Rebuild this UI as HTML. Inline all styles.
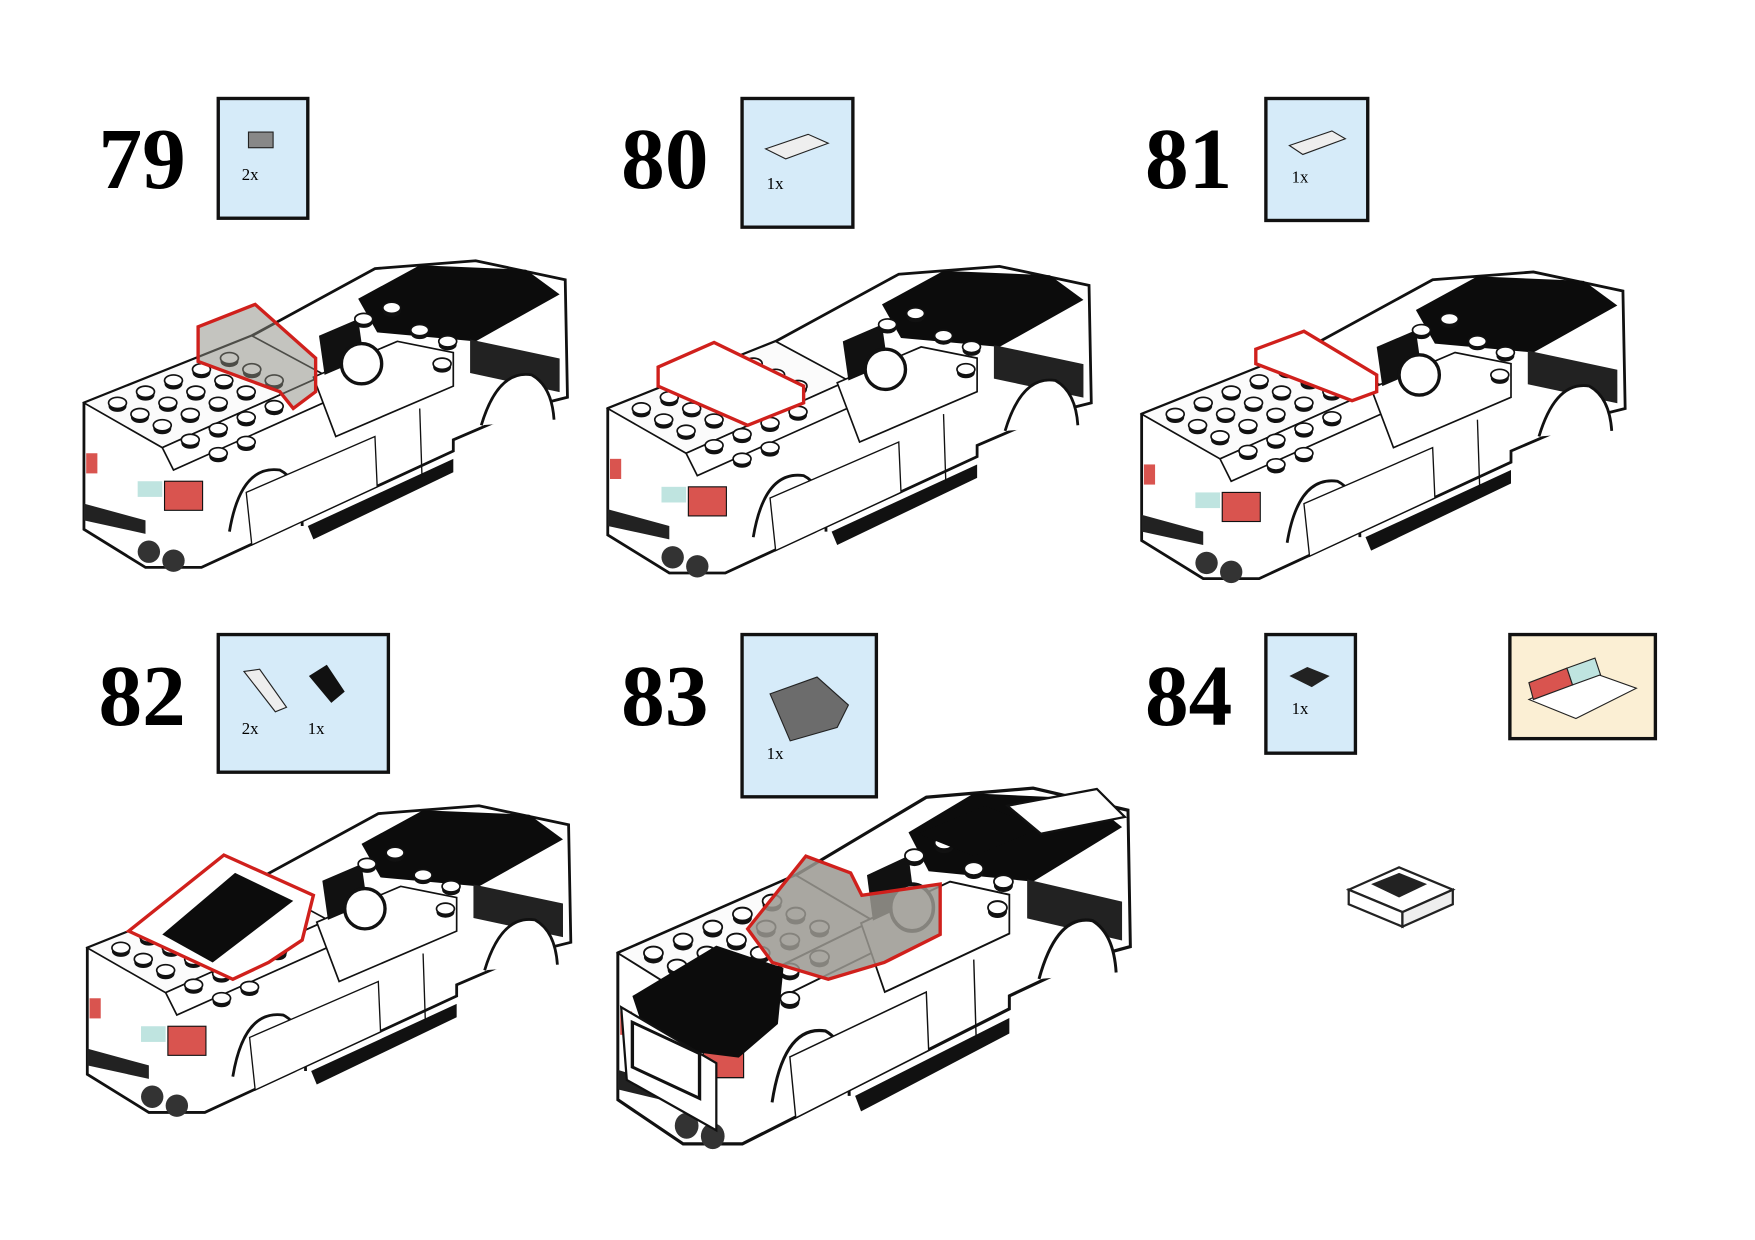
<!DOCTYPE html>
<html><head><meta charset="utf-8"><style>
html,body{margin:0;padding:0;background:#fff;width:1755px;height:1240px;overflow:hidden}
svg{display:block}
text{font-family:"Liberation Serif",serif}
.num{font-size:78px;font-weight:bold;fill:#000}
.qty{font-size:15px;fill:#000}
.box{fill:#d6ebf9;stroke:#111;stroke-width:3}
</style></head><body>
<svg width="1755" height="1240" viewBox="0 0 1568 1108" preserveAspectRatio="none">
<defs>
<g id="stud"><ellipse cx="0" cy="3" rx="8" ry="5" fill="#111"/><ellipse cx="0" cy="0" rx="8" ry="5" fill="#fff" stroke="#111" stroke-width="1.5"/></g>
<g id="car">
 <polygon points="0,135 150,75 260,15 350,8 430,25 432,130 400,138 330,168 330,178 105,282 55,282 0,248" fill="#fff" stroke="#111" stroke-width="2.5"/>
 <polygon points="245,42 300,12 395,16 425,38 350,80 262,72" fill="#0c0c0c"/>
 <rect x="345" y="5" width="80" height="30" fill="#222" transform="skewY(12)"/>
 <polygon points="0,135 150,75 215,110 70,175" fill="#fbfbfb" stroke="#111" stroke-width="1.5"/>
 <polygon points="70,175 215,110 225,130 80,195" fill="#fff" stroke="#111" stroke-width="1.5"/>
 <polygon points="205,112 280,80 330,90 330,120 225,165" fill="#fff" stroke="#111" stroke-width="1.5"/>
 <polygon points="210,75 245,60 250,95 215,110" fill="#111"/>
 <circle cx="248" cy="100" r="18" fill="#fff" stroke="#111" stroke-width="3"/>
 <polygon points="200,245 330,185 330,197 205,257" fill="#111"/>
 <path d="M130,250 Q140,190 175,195 Q195,205 195,245" fill="#fff" stroke="#111" stroke-width="2.5"/>
 <path d="M355,155 Q370,105 400,110 Q418,120 420,150" fill="#fff" stroke="#111" stroke-width="2.5"/>
 <polygon points="145,215 260,165 262,210 150,262" fill="#fff" stroke="#111" stroke-width="1.2"/>
 <line x1="300" y1="140" x2="302" y2="200" stroke="#111" stroke-width="1.2"/>
 <rect x="72" y="205" width="34" height="26" fill="#d9544f" stroke="#111"/>
 <rect x="2" y="180" width="10" height="18" fill="#d9544f"/>
 <rect x="48" y="205" width="22" height="14" fill="#bfe4e0"/>
 <polygon points="0,225 55,240 55,252 0,240" fill="#222"/>
 <circle cx="58" cy="268" r="10" fill="#333"/><circle cx="80" cy="276" r="10" fill="#333"/>
 <use href="#stud" x="30" y="135"/><use href="#stud" x="55" y="125"/><use href="#stud" x="80" y="115"/><use href="#stud" x="105" y="105"/><use href="#stud" x="130" y="95"/>
 <use href="#stud" x="50" y="145"/><use href="#stud" x="75" y="135"/><use href="#stud" x="100" y="125"/><use href="#stud" x="125" y="115"/><use href="#stud" x="150" y="105"/>
 <use href="#stud" x="70" y="155"/><use href="#stud" x="95" y="145"/><use href="#stud" x="120" y="135"/><use href="#stud" x="145" y="125"/><use href="#stud" x="170" y="115"/>
 <use href="#stud" x="95" y="168"/><use href="#stud" x="120" y="158"/><use href="#stud" x="145" y="148"/><use href="#stud" x="170" y="138"/>
 <use href="#stud" x="120" y="180"/><use href="#stud" x="145" y="170"/>
 <use href="#stud" x="250" y="60"/><use href="#stud" x="275" y="50"/><use href="#stud" x="300" y="70"/><use href="#stud" x="325" y="80"/><use href="#stud" x="320" y="100"/>
</g>
</defs>

<text class="num" x="88" y="168">79</text>
<text class="num" x="555" y="168">80</text>
<text class="num" x="1023" y="168">81</text>
<text class="num" x="88" y="648">82</text>
<text class="num" x="555" y="648">83</text>
<text class="num" x="1023" y="648">84</text>

<rect class="box" x="195" y="88" width="80" height="107"/>
<rect x="222" y="118" width="22" height="14" fill="#888" stroke="#222"/><text class="qty" x="216" y="161">2x</text>
<rect class="box" x="663" y="88" width="99" height="115"/>
<polygon points="684,133 722,120 740,128 702,142" fill="#eee" stroke="#222"/><text class="qty" x="685" y="169">1x</text>
<rect class="box" x="1131" y="88" width="91" height="109"/>
<polygon points="1152,130 1190,117 1202,124 1164,138" fill="#eee" stroke="#222"/><text class="qty" x="1154" y="163">1x</text>

<rect class="box" x="195" y="567" width="152" height="123"/>
<polygon points="218,600 232,598 256,632 246,636" fill="#eee" stroke="#222"/><polygon points="276,604 292,594 308,618 296,628" fill="#111"/>
<text class="qty" x="216" y="656">2x</text><text class="qty" x="275" y="656">1x</text>
<rect class="box" x="663" y="567" width="120" height="145"/>
<polygon points="688,620 730,605 758,630 748,650 706,662" fill="#6c6c6c" stroke="#222"/><text class="qty" x="685" y="678">1x</text>
<rect class="box" x="1131" y="567" width="80" height="106"/>
<polygon points="1152,604 1168,596 1188,604 1172,614" fill="#222"/><text class="qty" x="1154" y="638">1x</text>
<rect x="1349" y="567" width="130" height="93" fill="#fbefd4" stroke="#111" stroke-width="3"/>
<polygon points="1366,625 1420,600 1462,615 1408,642" fill="#fff" stroke="#222"/>
<polygon points="1366,610 1400,597 1405,612 1370,625" fill="#d9544f" stroke="#222"/>
<polygon points="1400,597 1425,588 1430,603 1405,612" fill="#bfe4e0" stroke="#222"/>

<use href="#car" x="75" y="225"/>
<polygon points="177,292 228,272 282,320 282,350 262,365 250,350 177,323" fill="#8a8a80" fill-opacity="0.5" stroke="#d0201c" stroke-width="3"/>

<use href="#car" x="543" y="230"/>
<polygon points="588,328 638,306 718,345 718,360 668,380 588,345" fill="#fff" stroke="#d0201c" stroke-width="3"/>

<use href="#car" x="1020" y="235"/>
<polygon points="1122,312 1165,296 1230,335 1230,350 1208,358 1122,325" fill="#fff" stroke="#d0201c" stroke-width="3"/>

<use href="#car" x="78" y="712"/>
<polygon points="115,832 200,764 280,800 270,840 240,860 208,875" fill="#fff" stroke="#d0201c" stroke-width="3"/>
<polygon points="145,835 210,780 262,805 190,860" fill="#0c0c0c"/>

<g transform="translate(552,695) scale(1.06,1.16)">
 <use href="#car" x="0" y="0"/>
</g>
<polygon points="565,890 640,845 700,865 695,915 660,945 580,935" fill="#0c0c0c"/>
<polygon points="555,900 640,950 640,1010 560,965" fill="#fff" stroke="#111" stroke-width="2"/>
<rect x="565" y="920" width="60" height="40" fill="#fff" stroke="#111" stroke-width="3" transform="skewY(25) translate(0,-270)"/>
<polygon points="820,745 880,720 930,740 870,765" fill="#0c0c0c"/>
<polygon points="900,720 980,705 1005,730 930,745" fill="#fff" stroke="#111" stroke-width="2"/>
<polygon points="668,830 720,765 760,780 770,800 840,790 840,835 790,860 740,875 690,860" fill="#9a9890" fill-opacity="0.85" stroke="#d0201c" stroke-width="3"/>

<polygon points="1205,795 1250,775 1298,795 1253,815" fill="#fff" stroke="#222" stroke-width="2"/>
<polygon points="1205,795 1253,815 1253,828 1205,808" fill="#fff" stroke="#222" stroke-width="2"/>
<polygon points="1253,815 1298,795 1298,808 1253,828" fill="#eee" stroke="#222" stroke-width="2"/>
<polygon points="1225,790 1250,780 1275,790 1250,802" fill="#222"/>
</svg>
</body></html>
